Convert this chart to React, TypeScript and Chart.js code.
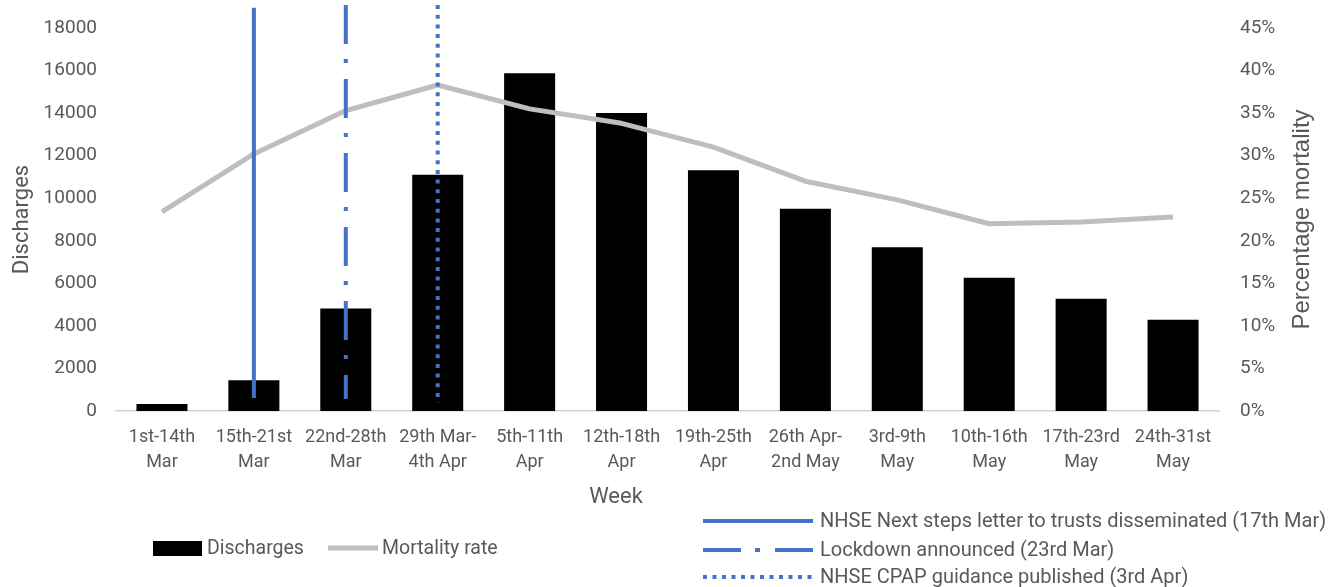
import React, { useEffect, useRef } from 'react';
import { Chart, registerables } from 'chart.js';

Chart.register(...registerables);

// ---- Data ----
const weekLabels: string[][] = [
  ['1st-14th', 'Mar'],
  ['15th-21st', 'Mar'],
  ['22nd-28th', 'Mar'],
  ['29th Mar-', '4th Apr'],
  ['5th-11th', 'Apr'],
  ['12th-18th', 'Apr'],
  ['19th-25th', 'Apr'],
  ['26th Apr-', '2nd May'],
  ['3rd-9th', 'May'],
  ['10th-16th', 'May'],
  ['17th-23rd', 'May'],
  ['24th-31st', 'May'],
];
const discharges = [330, 1450, 4820, 11100, 15870, 14000, 11320, 9500, 7700, 6260, 5270, 4290];
const mortalityRate = [23.4, 30.2, 35.3, 38.3, 35.5, 33.8, 31.0, 27.0, 24.8, 22.0, 22.2, 22.8];

const dischargeMax = 18000;
const dischargeStep = 2000;
const mortalityMax = 45;
const mortalityStep = 5;

const eventNames = [
  'NHSE Next steps letter to trusts disseminated (17th Mar)',
  'Lockdown announced (23rd Mar)',
  'NHSE CPAP guidance published (3rd Apr)',
];
const eventWeekIndex = [1, 2, 3];
const eventTop = [18950, 19080, 19080];
const eventBottom = [610, 560, 380];

const seriesNames = ['Discharges', 'Mortality rate'];
const xTitle = 'Week';
const yTitle = 'Discharges';
const y1Title = 'Percentage mortality';

// ---- Styles ----
const TEXT = '#595959';
const BLUE = '#4472C4';
const GREY = '#BEBEBE';
const AXIS = '#C9D4E2';
const eventDash: number[][] = [[], [39, 15, 4, 16], [4, 5.7]];
const legendDash: number[][] = [[], [38, 14, 5, 15], [4, 5.5]];

const overlay = {
  id: 'overlay',
  afterDraw(chart: any) {
    const ctx = chart.ctx as CanvasRenderingContext2D;
    const ca = chart.chartArea;
    const midY = (ca.top + ca.bottom) / 2;
    ctx.save();
    ctx.fillStyle = TEXT;
    ctx.textBaseline = 'middle';

    // axis titles
    ctx.textAlign = 'center';
    ctx.font = '22px Roboto';
    ctx.save();
    ctx.translate(22, midY);
    ctx.rotate(-Math.PI / 2);
    ctx.fillText(yTitle, 0, 0);
    ctx.restore();

    ctx.font = '24px "Liberation Sans"';
    ctx.save();
    ctx.translate(1302, midY);
    ctx.rotate(-Math.PI / 2);
    ctx.fillText(y1Title, 0, 0);
    ctx.restore();

    ctx.font = '22px Roboto';
    ctx.fillText(xTitle, 616, 497);

    // left legend
    ctx.textAlign = 'left';
    ctx.font = '19.5px Roboto';
    ctx.fillStyle = '#000';
    ctx.fillRect(153, 541, 49, 15);
    ctx.fillStyle = TEXT;
    ctx.fillText(seriesNames[0], 207, 549);
    ctx.strokeStyle = GREY;
    ctx.lineWidth = 5;
    ctx.beginPath();
    ctx.moveTo(328, 548);
    ctx.lineTo(378, 548);
    ctx.stroke();
    ctx.fillText(seriesNames[1], 382, 549);

    // right legend (events)
    const rows = [521, 550, 577];
    ctx.font = '20px Roboto';
    eventNames.forEach((name, i) => {
      ctx.strokeStyle = BLUE;
      ctx.lineWidth = 4;
      ctx.setLineDash(legendDash[i]);
      ctx.beginPath();
      ctx.moveTo(703, rows[i]);
      ctx.lineTo(813, rows[i]);
      ctx.stroke();
      ctx.setLineDash([]);
      ctx.fillStyle = TEXT;
      ctx.fillText(name, 820, rows[i] + 1);
    });
    ctx.restore();
  },
};

const fixVertical = (s: any) => {
  s.width = 116;
  s.paddingTop = 0;
  s.paddingBottom = 0;
};

export default function App() {
  const ref = useRef<HTMLCanvasElement | null>(null);

  useEffect(() => {
    if (!ref.current) return;
    const eventDatasets = eventNames.map((name, i) => ({
      type: 'line' as const,
      label: name,
      xAxisID: 'xe',
      yAxisID: 'y',
      data: [
        { x: eventWeekIndex[i], y: eventTop[i] },
        { x: eventWeekIndex[i], y: eventBottom[i] },
      ],
      borderColor: BLUE,
      borderWidth: 4,
      borderDash: eventDash[i],
      borderCapStyle: 'butt' as const,
      pointRadius: 0,
      tension: 0,
      clip: false as any,
      order: 0,
    }));

    const chart = new Chart(ref.current, {
      type: 'bar',
      data: {
        labels: weekLabels as any,
        datasets: [
          {
            type: 'bar' as const,
            label: seriesNames[0],
            data: discharges,
            backgroundColor: '#000',
            barPercentage: 0.555,
            categoryPercentage: 1,
            grouped: false,
            yAxisID: 'y',
            xAxisID: 'x',
            order: 2,
          },
          {
            type: 'line' as const,
            label: seriesNames[1],
            data: mortalityRate,
            borderColor: GREY,
            borderWidth: 5,
            borderJoinStyle: 'round' as const,
            pointRadius: 0,
            tension: 0,
            yAxisID: 'y1',
            xAxisID: 'x',
            order: 1,
          },
          ...eventDatasets,
        ] as any,
      },
      options: {
        animation: false,
        responsive: true,
        maintainAspectRatio: false,
        layout: { padding: { top: 28, left: 0, right: 0, bottom: 0 } },
        plugins: { legend: { display: false }, tooltip: { enabled: false } },
        scales: {
          x: {
            type: 'category',
            offset: true,
            grid: { display: false, drawTicks: false },
            border: { display: true, color: AXIS, width: 1.5 },
            ticks: {
              color: TEXT,
              font: { family: 'Roboto', size: 18, lineHeight: '25px' as any },
              padding: 14,
              maxRotation: 0,
              autoSkip: false,
            },
            afterFit: (s: any) => {
              s.height = 176;
            },
          },
          xe: {
            type: 'linear',
            display: false,
            min: -0.5,
            max: weekLabels.length - 0.5,
            offset: false,
          },
          y: {
            position: 'left',
            min: 0,
            max: dischargeMax,
            grid: { display: false, drawTicks: false },
            border: { display: false },
            ticks: {
              stepSize: dischargeStep,
              color: TEXT,
              font: { family: 'Roboto', size: 19 },
              padding: 19,
              callback: (v: any) => String(v),
            },
            afterFit: fixVertical,
          },
          y1: {
            position: 'right',
            min: 0,
            max: mortalityMax,
            grid: { display: false, drawTicks: false },
            border: { display: false },
            ticks: {
              stepSize: mortalityStep,
              color: TEXT,
              font: { family: 'Roboto', size: 19 },
              padding: 21,
              callback: (v: any) => `${v}%`,
            },
            afterFit: fixVertical,
          },
        } as any,
      },
      plugins: [overlay],
    });
    return () => chart.destroy();
  }, []);

  return (
    <div style={{ position: 'fixed', left: 0, top: 0, width: 1335, height: 587, background: '#fff' }}>
      <canvas ref={ref} />
    </div>
  );
}
